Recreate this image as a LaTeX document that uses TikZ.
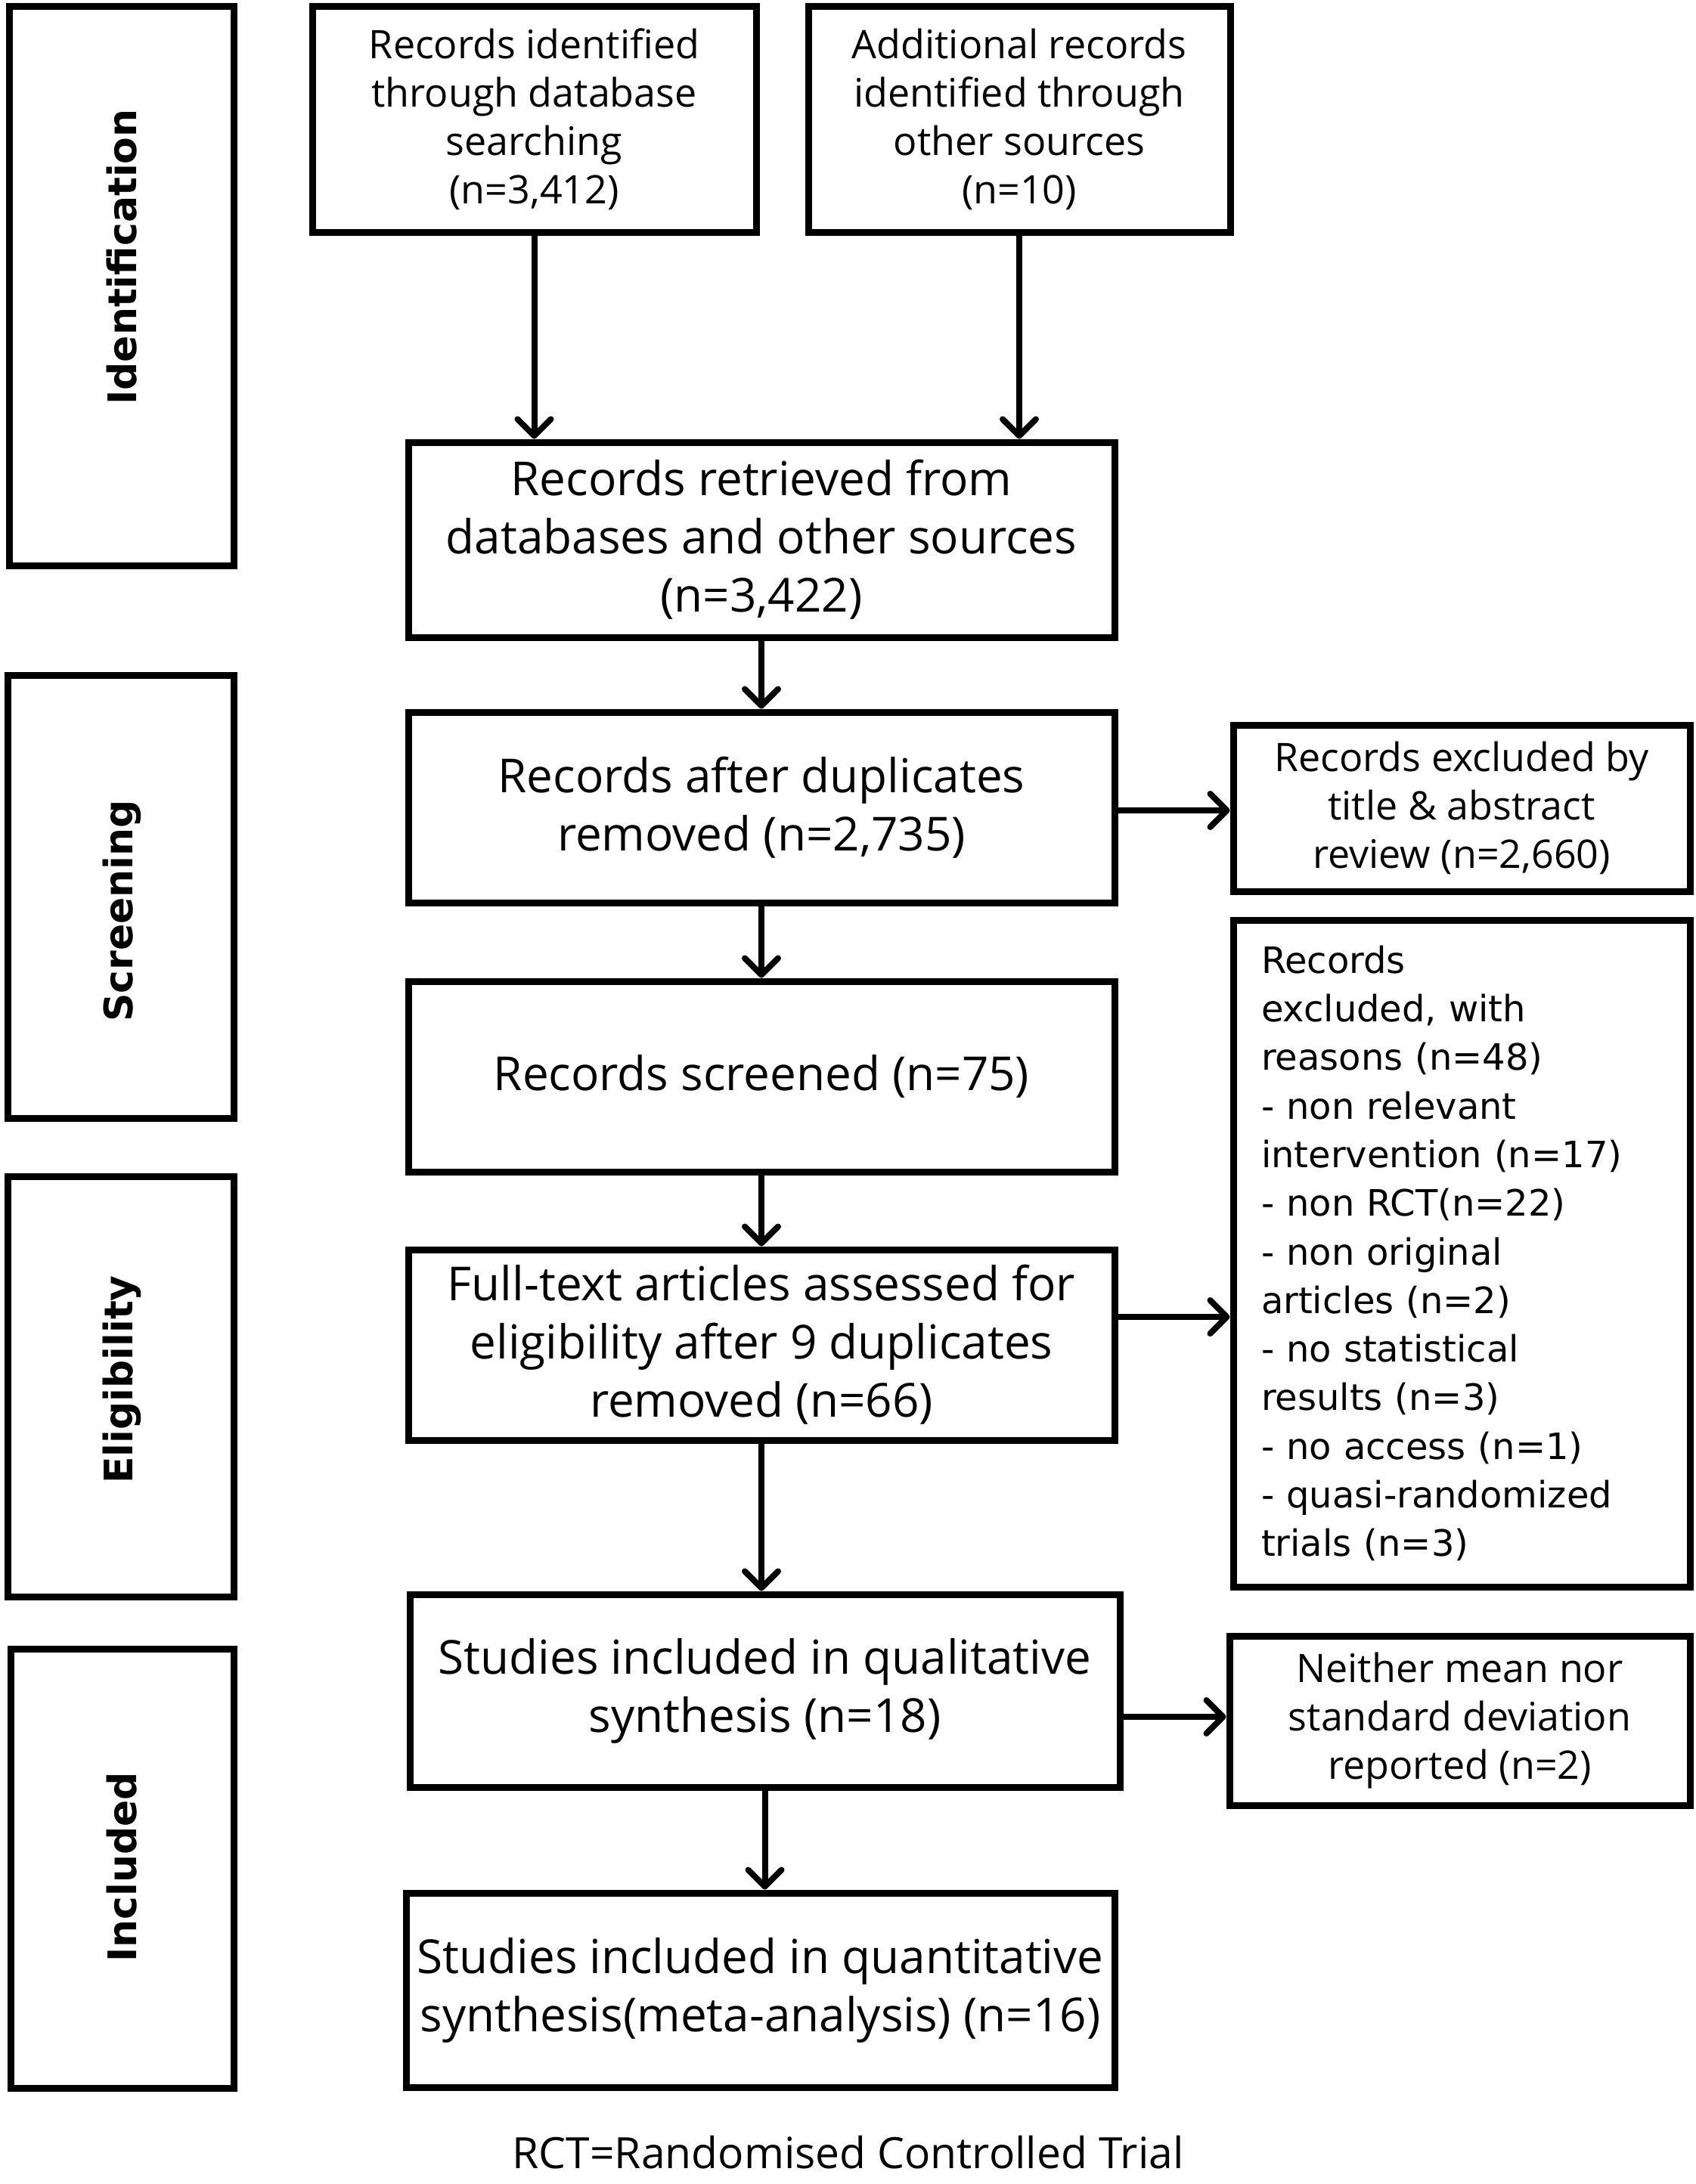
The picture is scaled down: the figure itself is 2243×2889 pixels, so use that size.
\documentclass[tikz,border=0pt]{standalone}
\usepackage{fontspec}
\setmainfont{Open Sans}
\newfontfamily\wideface{DejaVu Sans}
\usetikzlibrary{arrows.meta}
\tikzset{
  box/.style={draw, line width=9pt, inner sep=0pt, align=center, fill=white},
  bigtext/.style={font=\fontsize{62}{77}\selectfont},
  smalltext/.style={font=\fontsize{52}{64}\selectfont},
  phase/.style={rotate=90, inner sep=0pt, font=\wideface\bfseries\fontsize{52}{60}\selectfont},
  arr/.style={line width=8pt, -{Straight Barb[length=22pt,width=44pt,round]}},
}
\begin{document}
\begin{tikzpicture}[x=1pt,y=-1pt]
\useasboundingbox[fill=white] (0,0) rectangle (2243,2889);
% phase boxes
\node[box, minimum width=297pt, minimum height=740pt] (pid) at (160.5,378) {};
\node[box, minimum width=299pt, minimum height=586pt] (psc) at (159.5,1186) {};
\node[box, minimum width=299pt, minimum height=556pt] (pel) at (159.5,1834) {};
\node[box, minimum width=295pt, minimum height=581pt] (pin) at (161.5,2471.5) {};
\node[phase] (lid) at (161,340) {Identification};
\node[phase] (lsc) at (161,1205) {Screening};
\node[phase] (lel) at (161,1825) {Eligibility};
\node[phase] (lin) at (161,2470) {Included};
% main boxes
\node[box, smalltext, minimum width=587pt, minimum height=299pt] (b1) at (706.5,157.5)
  {Records identified\\through database\\searching\\(n=3,412)};
\node[box, smalltext, minimum width=558pt, minimum height=299pt] (b2) at (1348,157.5)
  {Additional records\\identified through\\other sources\\(n=10)};
\node[box, bigtext, minimum width=934pt, minimum height=258pt] (b3) at (1007,714)
  {Records retrieved from\\databases and other sources\\(n=3,422)};
\node[box, bigtext, minimum width=934pt, minimum height=252pt] (b4) at (1007,1068)
  {Records after duplicates\\removed (n=2,735)};
\node[box, smalltext, minimum width=604pt, minimum height=220pt] (b5) at (1933,1069)
  {Records excluded by\\title \& abstract\\review (n=2,660)};
\node[box, bigtext, minimum width=934pt, minimum height=252pt] (b6) at (1007,1424)
  {Records screened (n=75)};
\node[box, align=left, inner xsep=37pt, text width=530pt, minimum height=882pt,
  font=\wideface\fontsize{48}{64.3}\selectfont] (b7) at (1933,1658)
  {Records\\excluded, with\\reasons (n=48)\\- non relevant\\intervention (n=17)\\- non RCT(n=22)\\- non original\\articles (n=2)\\- no statistical\\results (n=3)\\- no access (n=1)\\- quasi-randomized\\trials (n=3)};
\node[box, bigtext, minimum width=934pt, minimum height=252pt] (b8) at (1007,1779)
  {Full-text articles assessed for\\eligibility after 9 duplicates\\removed (n=66)};
\node[box, bigtext, minimum width=939pt, minimum height=255pt] (b9) at (1011.5,2236.5)
  {Studies included in qualitative\\synthesis (n=18)};
\node[box, smalltext, minimum width=609pt, minimum height=224pt] (b10) at (1930.5,2276)
  {Neither mean nor\\standard deviation\\reported (n=2)};
\node[box, bigtext, minimum width=937pt, minimum height=257pt] (b11) at (1005.5,2632.5)
  {Studies included in quantitative\\synthesis(meta-analysis) (n=16)};
% footnote
\node[anchor=base, inner sep=0pt, font=\fontsize{57}{64}\selectfont] (note) at (1121.5,2868)
  {RCT=Randomised Controlled Trial};
% connectors
\draw[arr] (b1.south) -- (b1.south |- b3.north);
\draw[arr] (b2.south) -- (b2.south |- b3.north);
\draw[arr] (b3.south) -- (b3.south |- b4.north);
\draw[arr] (b4.south) -- (b4.south |- b6.north);
\draw[arr] (b6.south) -- (b6.south |- b8.north);
\draw[arr] (b8.south) -- (b8.south |- b9.north);
\draw[arr] (b9.south) -- (b9.south |- b11.north);
\coordinate (a45) at ([yshift=-4pt]b4.east);
\draw[arr] (a45) -- (a45 -| b5.west);
\coordinate (a87) at ([yshift=37pt]b8.east);
\draw[arr] (a87) -- (a87 -| b7.west);
\coordinate (a910) at ([yshift=5pt]b10.west -| b9.east);
\draw[arr] (a910) -- (a910 -| b10.west);
\end{tikzpicture}
\end{document}
